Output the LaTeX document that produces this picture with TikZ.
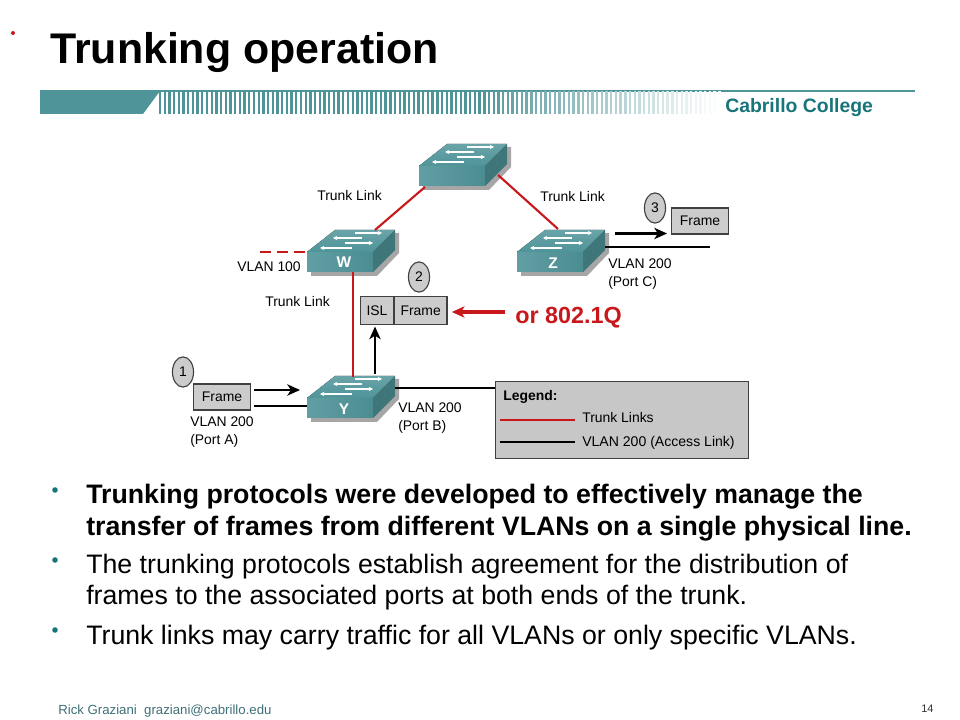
\documentclass[tikz,border=0pt]{standalone}
\usepackage{fontspec}
\setmainfont{Liberation Sans}
\usetikzlibrary{arrows.meta,shapes.geometric}

\definecolor{barteal}{HTML}{4F9499}
\definecolor{collegeteal}{HTML}{17757A}
\definecolor{linkred}{HTML}{C8181C}
\definecolor{boxgrey}{HTML}{CCCCCC}
\definecolor{footteal}{HTML}{3F6F78}

\tikzset{
  lbl/.style={anchor=west,inner sep=0pt,align=left,font=\fontsize{9.9}{12.8}\selectfont},
  bodytxt/.style={anchor=west,inner sep=0pt,font=\fontsize{19}{22}\selectfont},
  greybox/.style={draw=black!75,fill=boxgrey,line width=0.8pt,inner sep=0pt,font=\fontsize{9.9}{12}\selectfont},
  stepmark/.style={ellipse,draw=black!75,fill=boxgrey,line width=0.8pt,inner sep=0pt,
    minimum width=15pt,minimum height=21.5pt,font=\fontsize{9.9}{12}\selectfont},
  trunk/.style={linkred,line width=1.5pt},
  access/.style={black,line width=1.5pt},
  bigarrow/.style={-{Stealth[length=9pt,width=8pt,inset=2.5pt]}},
  swname/.style={text=white,font=\fontsize{11}{13}\bfseries\selectfont,inner sep=0pt},
  pics/switchbox/.style={code={
    \fill[black!35] (4,3) -- (32,-19) -- (92,-19) -- (92,1) -- (70,24) -- (4,24) -- cycle;
    \fill[left color=#1!90!white,right color=#1!95!black] (0,0) rectangle (66,20);
    \fill[top color=#1!85!white,bottom color=#1] (0,0) -- (28,-22) -- (88,-22) -- (66,0) -- cycle;
    \fill[#1!80!black] (66,0) -- (88,-22) -- (88,-2) -- (66,20) -- cycle;
    \foreach \xa/\xb/\yy in {55/26/-14, 48/75/-19, 38/66/-9, 45/13/-4}
      \draw[white,line width=1.1pt,-{Stealth[length=3pt,width=3pt]}] (\xa,\yy) -- (\xb,\yy);
  }},
}

\begin{document}
\begin{tikzpicture}[x=0.025cm,y=-0.025cm]
   \useasboundingbox (0,0) rectangle (960,720);
 %% header
   \node[anchor=west,inner sep=0pt,font=\fontsize{30.5}{36}\bfseries\selectfont] (title) at (50,53) {Trunking operation};
   \fill[linkred] (13,33) circle (2);
   \draw[barteal,line width=1.8pt] (40,91) -- (915,91);
   \fill[barteal] (40,91) -- (160,91) -- (143,114) -- (40,114) -- cycle;
 \foreach \i in {0,...,119} {
        \pgfmathsetmacro\xx{160+4.7*\i}
        \pgfmathtruncatemacro\pc{\xx<480 ? 100 : max(0,100-(\xx-480)/2.4)}
        \draw[barteal!\pc!white,line width=1.7pt] (\xx,91) -- (\xx,114);
 }
   \node[anchor=west,inner sep=0pt,text=collegeteal,font=\fontsize{13.8}{16}\bfseries\selectfont] (college) at (725,108) {Cabrillo College};
 %% switches
   \pic (T) at (419,166) {switchbox=barteal};
   \pic (W) at (307,252) {switchbox=barteal};
   \pic (Z) at (517,252) {switchbox=barteal};
   \pic (Y) at (307,398) {switchbox=barteal};
   \node[swname] (Wname) at (344,262) {W};
   \node[swname] (Zname) at (553,263) {Z};
   \node[swname] (Yname) at (344,409) {Y};
 %% boxes
   \node[stepmark] (one) at (183,372) {1};
   \node[stepmark] (two) at (419,277) {2};
   \node[stepmark] (three) at (655,208) {3};
   \node[greybox,minimum width=40pt,minimum height=18.5pt] (frameA) at (222,397) {Frame};
   \node[greybox,minimum width=40pt,minimum height=18.5pt] (frameC) at (700,221) {Frame};
   \node[greybox,minimum width=23pt,minimum height=20.5pt] (isl) at (377,310.5) {ISL};
   \node[greybox,minimum width=37.5pt,minimum height=20.5pt,anchor=west] (frameB) at (isl.east) {Frame};
 %% free ends of the links
   \coordinate (Ttl) at (425,187);
   \coordinate (Ttr) at (498,175);
   \coordinate (Wtop) at (375,230);
   \coordinate (Ztop) at (558,229);
   \coordinate (Wbot) at (353,272);
   \coordinate (Ytop) at (353,377);
   \coordinate (Wleft) at (307,252);
   \coordinate (vlanend) at (260,252);
   \coordinate (Aout) at (254,406);
   \coordinate (Yleft) at (307,406);
   \coordinate (Yright) at (395,388);
   \coordinate (Yend) at (496,388);
   \coordinate (Zright) at (605,247);
   \coordinate (Zend) at (710,247);
 %% trunk and access links
   \draw[trunk] (Ttl) -- (Wtop);
   \draw[trunk] (Ttr) -- (Ztop);
   \draw[trunk] (Wbot) -- (Ytop);
   \draw[trunk,dashed,dash pattern=on 8pt off 4pt] (vlanend) -- (Wleft);
   \draw[access] (Aout) -- (Yleft);
   \draw[access] (Yright) -- (Yend);
   \draw[access] (Zright) -- (Zend);
 %% arrows
   \coordinate (Ain) at (254,390);
   \coordinate (Ahead) at (300,390);
   \coordinate (Yup) at (375,374);
   \coordinate (Cin) at (615,233.5);
   \coordinate (Chead) at (667,233.5);
   \coordinate (Rin) at (505,312);
   \draw[access,bigarrow] (Ain) -- (Ahead);
   \draw[access,bigarrow] (Yup) -- (375,326.5);
   \draw[access,bigarrow] (Cin) -- (Chead);
   \draw[trunk,line width=2.4pt,bigarrow] (Rin) -- ([xshift=3]frameB.east |- Rin);
   \node[anchor=west,inner sep=0pt,text=linkred,font=\fontsize{16.6}{19}\bfseries\selectfont] (dotq) at (515,318) {or 802.1Q};
 %% labels
   \node[lbl] (tl1) at (317,196) {Trunk Link};
   \node[lbl] (tl2) at (540,197) {Trunk Link};
   \node[lbl] (tl3) at (265,302) {Trunk Link};
   \node[lbl] (v100) at (237,267) {VLAN 100};
   \node[lbl] (portA) at (190,432) {VLAN 200\\(Port A)};
   \node[lbl] (portB) at (398,418) {VLAN 200\\(Port B)};
   \node[lbl] (portC) at (608,274) {VLAN 200\\(Port C)};
 %% legend
   \node[draw=black!75,fill=black!22,line width=0.8pt,minimum width=180pt,minimum height=54.7pt,inner sep=0pt,anchor=north west] (legend) at (495,381) {};
   \node[lbl,font=\fontsize{9.9}{12}\bfseries\selectfont] (legendhead) at (503,397) {Legend:};
   \node[lbl] (legtrunk) at (582,418) {Trunk Links};
   \node[lbl,font=\fontsize{10}{12}\selectfont] (legaccess) at (582,443) {VLAN 200 (Access Link)};
   \coordinate (lt) at (500,420);
   \coordinate (la) at (500,442);
   \draw[trunk] (lt) -- (575,420);
   \draw[access] (la) -- (575,442);
 %% text
 \foreach \yy in {490,560,630}
        \fill[collegeteal] (55,\yy) circle (2.8);
   \node[bodytxt,font=\fontsize{19}{22}\bfseries\selectfont] (b1) at (86,497) {Trunking protocols were developed to effectively manage the};
   \node[bodytxt,font=\fontsize{19}{22}\bfseries\selectfont] (b2) at (86,529) {transfer of frames from different VLANs on a single physical line.};
   \node[bodytxt] (b3) at (86,567) {The trunking protocols establish agreement for the distribution of};
   \node[bodytxt] (b4) at (86,598) {frames to the associated ports at both ends of the trunk.};
   \node[bodytxt] (b5) at (86,638) {Trunk links may carry traffic for all VLANs or only specific VLANs.};
   \node[anchor=west,inner sep=0pt,text=footteal,font=\fontsize{9.4}{11}\selectfont] (foot) at (58,711) {Rick Graziani\ \ graziani@cabrillo.edu};
   \node[anchor=west,inner sep=0pt,text=black!80,font=\fontsize{7.8}{10}\selectfont] (page) at (921,709) {14};
\end{tikzpicture}
\end{document}
